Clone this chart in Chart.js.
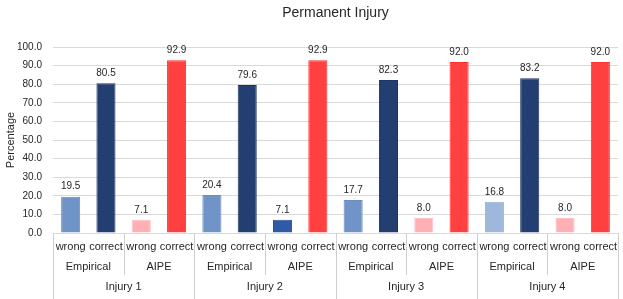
<!DOCTYPE html>
<html>
<head>
<meta charset="utf-8">
<script src="https://cdn.jsdelivr.net/npm/chart.js@4/dist/chart.umd.min.js"></script>
<style>
  html, body { margin: 0; padding: 0; background: #ffffff; }
  #wrap { width: 623px; height: 299px; }
</style>
</head>
<body>
<div id="wrap"><canvas id="c" width="623" height="299"></canvas></div>
<script>
// ---- data ----
const chartTitle = 'Permanent Injury';
const yAxisTitle = 'Percentage';
const injuries = ['Injury 1', 'Injury 2', 'Injury 3', 'Injury 4'];
const methods = ['Empirical', 'AIPE'];
const outcomes = ['wrong', 'correct'];
const empiricalWrong   = [19.5, 20.4, 17.7, 16.8];
const empiricalCorrect = [80.5, 79.6, 82.3, 83.2];
const aipeWrong        = [7.1, 7.1, 8.0, 8.0];
const aipeCorrect      = [92.9, 92.9, 92.0, 92.0];
const yMin = 0, yMax = 100, yStep = 10;

// ---- build flat categories ----
const seriesByMethod = [[empiricalWrong, empiricalCorrect], [aipeWrong, aipeCorrect]];
const labels = [], values = [];
injuries.forEach((inj, i) => {
  methods.forEach((m, j) => {
    outcomes.forEach((o, k) => {
      labels.push(o);
      values.push(seriesByMethod[j][k][i]);
    });
  });
});

// ---- styles ----
const fillColors = [
  '#7094c8', '#233f72', '#ffb0b5', '#ff4040',
  '#7094c8', '#233f72', '#2e5aa8', '#ff4040',
  '#7094c8', '#233f72', '#ffb0b5', '#ff4040',
  '#9eb8dc', '#233f72', '#ffb0b5', '#ff4040'
];
const borderColors = [
  '#6a8cc0', '#1c3461', '#ffc0c4', '#ff3030',
  '#6a8cc0', '#1c3461', '#28509a', '#ff3030',
  '#6a8cc0', '#1c3461', '#ffc0c4', '#ff3030',
  '#94b0d6', '#1c3461', '#ffc0c4', '#ff3030'
];
const FONT = "'Liberation Sans', Arial, sans-serif";
const TEXT = '#262626';
const SEP = '#cfcfcf';

const multiAxisPlugin = {
  id: 'multiAxis',
  afterDraw(chart) {
    const ctx = chart.ctx;
    const xs = chart.scales.x;
    const area = chart.chartArea;
    const n = labels.length;
    const w = (xs.right - xs.left) / n;
    const top = area.bottom;
    const row1 = top + 14, row2 = top + 34, row3 = top + 54;
    const midLineEnd = top + 42;
    const bottom = chart.height;
    ctx.save();
    // separators
    ctx.strokeStyle = SEP;
    ctx.lineWidth = 1;
    for (let i = 0; i <= n; i += 2) {
      const x = Math.round(xs.left + i * w) + 0.5;
      const full = (i % 4 === 0);
      ctx.beginPath();
      ctx.moveTo(x, top);
      ctx.lineTo(x, full ? bottom : midLineEnd);
      ctx.stroke();
    }
    ctx.fillStyle = TEXT;
    ctx.textAlign = 'center';
    ctx.textBaseline = 'middle';
    ctx.font = '11px ' + FONT;
    // row 1: outcomes
    for (let i = 0; i < n; i++) {
      ctx.fillText(labels[i], xs.getPixelForValue(i), row1);
    }
    // row 2: methods
    for (let g = 0; g < n / 2; g++) {
      const cx = xs.left + (g * 2 + 1) * w;
      ctx.fillText(methods[g % methods.length], cx, row2);
    }
    // row 3: injuries
    for (let g = 0; g < injuries.length; g++) {
      const cx = xs.left + (g * 4 + 2) * w;
      ctx.fillText(injuries[g], cx, row3);
    }
    // title
    ctx.font = '14px ' + FONT;
    ctx.fillText(chartTitle, (area.left + area.right) / 2, 13);
    ctx.restore();
  },
  afterDatasetsDraw(chart) {
    const ctx = chart.ctx;
    const meta = chart.getDatasetMeta(0);
    ctx.save();
    ctx.fillStyle = TEXT;
    ctx.font = '10px ' + FONT;
    ctx.textAlign = 'center';
    ctx.textBaseline = 'middle';
    meta.data.forEach((bar, i) => {
      ctx.fillText(values[i].toFixed(1), bar.x, bar.y - 10);
    });
    ctx.restore();
  }
};

new Chart(document.getElementById('c'), {
  type: 'bar',
  data: {
    labels: labels,
    datasets: [{
      data: values,
      backgroundColor: fillColors,
      borderColor: borderColors,
      borderWidth: 1,
      categoryPercentage: 1,
      barPercentage: 0.54
    }]
  },
  options: {
    responsive: false,
    animation: false,
    devicePixelRatio: 1,
    layout: { padding: { top: 47, right: 5, left: 0, bottom: 0 } },
    plugins: {
      legend: { display: false },
      title: { display: false },
      tooltip: { enabled: false }
    },
    scales: {
      x: {
        type: 'category',
        grid: { display: false },
        border: { display: false },
        ticks: { display: false },
        afterFit(scale) { scale.height = 66; }
      },
      y: {
        min: yMin,
        max: yMax,
        ticks: {
          stepSize: yStep,
          color: TEXT,
          font: { family: FONT, size: 10 },
          callback: v => Number(v).toFixed(1)
        },
        grid: { color: '#d9d9d9', drawTicks: true, tickLength: 8, tickColor: 'rgba(0,0,0,0)' },
        border: { display: false },
        title: {
          display: true,
          text: yAxisTitle,
          color: TEXT,
          font: { family: FONT, size: 11 },
          padding: { top: 4, bottom: 4 }
        },
        afterFit(scale) { scale.width = 53; }
      }
    }
  },
  plugins: [multiAxisPlugin]
});
</script>
</body>
</html>
